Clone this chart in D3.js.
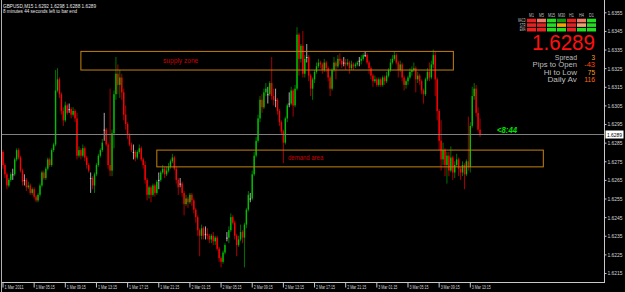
<!DOCTYPE html>
<html>
<head>
<meta charset="utf-8">
<script src="https://cdn.jsdelivr.net/npm/d3@7"></script>
<style>
  body { margin: 0; background: #000; overflow: hidden; }
  svg { display: block; font-family: "Liberation Sans", Arial, sans-serif; }
</style>
</head>
<body>
<svg id="chart"></svg>
<script>
const W = 625, H = 292;

// GBPUSD M15, 1 Mar 2011 01:15 onwards. [open, high, low, close] in pips above BASE
const BASE = 1.6200;
const candles = [
  [80,81,71,73],[73,74,66,68],[68,69,60,62],[62,66,61,65],[65,69,64,68],[68,71,65,68],[68,77,67,76],[76,82,75,81],
  [81,82,76,77],[77,78,69,70],[70,71,62,64],[65,68,62,65],[65,66,59,61],[61,64,60,62],[62,63,57,58],[58,61,57,60],
  [60,61,55,56],[56,57,53,54],[54,58,53,57],[57,63,56,62],[62,70,61,69],[69,70,65,66],[66,72,65,71],[71,77,70,76],
  [76,77,72,73],[73,82,72,81],[81,85,80,84],[84,124,83,113],[113,125,112,119],[119,120,109,111],[111,112,100,102],[102,104,94,97],
  [97,107,96,105],[105,106,100,101],[103,106,101,103],[103,104,98,100],[100,104,99,102],[102,103,96,98],[98,101,76,78],[78,83,77,81],
  [81,82,76,78],[78,84,77,82],[82,83,75,77],[77,78,71,73],[73,74,69,70],[66,69,58,66],[66,67,60,62],[62,69,58,68],
  [68,74,67,73],[73,79,72,78],[78,82,77,81],[81,87,80,85],[92,101,86,92],[92,93,83,84],[84,85,71,73],[73,114,67,70],
  [70,92,67,90],[90,113,82,111],[111,131,108,122],[122,127,111,116],[116,124,109,120],[120,122,108,112],[112,114,97,100],[100,105,92,95],
  [95,96,87,89],[89,90,83,84],[84,85,80,81],[80,84,76,80],[80,81,75,77],[77,81,76,80],[80,84,79,82],[82,83,75,76],
  [76,77,71,73],[73,75,63,65],[65,66,54,57],[57,62,55,61],[61,62,53,57],[57,63,56,62],[62,63,56,58],[58,65,57,64],
  [65,69,60,65],[65,70,64,69],[69,73,68,71],[71,72,66,68],[68,72,67,70],[70,74,69,72],[72,76,71,75],[75,79,74,77],
  [77,78,70,71],[71,72,63,65],[65,66,57,61],[63,66,61,63],[63,64,56,58],[58,59,46,52],[52,57,51,55],[55,56,50,53],
  [53,58,52,57],[57,58,51,54],[54,55,47,49],[49,50,42,45],[45,46,35,38],[38,39,24,35],[35,41,33,39],[39,40,33,35],
  [36,40,33,36],[36,39,33,35],[35,36,31,33],[33,36,31,35],[35,37,30,32],[32,35,30,34],[34,35,27,28],[28,29,21,23],
  [23,24,18,21],[21,27,20,26],[26,31,25,30],[34,37,32,34],[34,40,31,38],[38,47,37,45],[45,46,41,42],[42,43,33,35],
  [35,36,24,30],[30,35,29,33],[33,41,32,37],[37,38,31,34],[34,42,18,41],[41,50,39,49],[49,59,48,57],[55,58,53,55],
  [55,70,54,68],[68,80,67,78],[78,88,77,86],[86,100,85,98],[98,110,96,108],[108,111,101,104],[104,114,103,112],[112,117,110,114],
  [111,115,106,111],[111,118,110,117],[117,131,108,110],[110,114,105,108],[108,114,104,108],[108,109,100,102],[102,103,94,96],[96,97,89,91],
  [91,92,74,85],[85,99,84,98],[98,106,96,105],[106,112,104,106],[106,115,105,113],[113,114,99,105],[105,116,104,114],[114,147,113,143],
  [143,144,121,130],[130,138,128,137],[137,145,120,122],[122,132,120,130],[131,138,128,131],[131,132,118,121],[121,122,110,114],[114,120,108,119],
  [119,124,117,123],[123,128,122,126],[126,130,125,128],[128,129,125,127],[127,128,122,124],[124,130,123,128],[128,129,123,125],[125,126,118,120],
  [120,121,110,114],[114,125,113,124],[124,131,123,128],[128,129,119,126],[126,132,125,130],[130,133,127,129],[129,130,125,127],[128,131,126,128],
  [128,130,124,127],[127,130,126,128],[128,129,122,125],[125,129,124,127],[127,128,124,126],[126,128,125,127],[127,129,126,128],[129,131,126,129],
  [129,132,127,130],[130,133,129,132],[132,134,131,132],[132,133,127,128],[128,129,122,125],[125,126,119,121],[121,122,115,118],[118,121,117,119],
  [119,120,115,116],[116,120,115,119],[119,120,115,116],[116,121,115,120],[120,121,116,118],[118,123,117,121],[121,125,120,124],[124,130,123,128],
  [128,132,127,130],[130,134,129,132],[132,133,127,128],[128,129,120,124],[124,129,123,127],[127,128,118,120],[120,121,113,116],[116,119,114,118],
  [118,121,116,120],[120,125,119,123],[123,126,121,124],[124,128,123,125],[125,126,112,119],[119,123,117,121],[121,122,116,118],[118,119,111,113],
  [113,114,106,111],[111,120,110,119],[119,125,118,123],[123,128,118,120],[120,129,119,127],[127,135,125,132],[132,134,110,119],[119,120,97,102],
  [102,103,81,86],[86,97,70,76],[76,85,73,81],[81,82,67,73],[73,80,63,78],[78,80,67,70],[70,83,69,77],[77,78,65,69],
  [69,75,66,73],[73,79,72,76],[76,77,67,71],[71,72,65,69],[69,75,67,73],[73,74,60,68],[68,76,67,75],[75,99,70,72],
  [72,96,69,94],[94,115,93,110],[110,117,108,114],[114,116,99,101],[101,104,91,92],[92,98,88,89]
];

const timeLabels = ["1 Mar 2011","1 Mar 05:15","1 Mar 09:15","1 Mar 13:15","1 Mar 17:15","1 Mar 21:15",
  "2 Mar 01:15","2 Mar 05:15","2 Mar 09:15","2 Mar 13:15","2 Mar 17:15","2 Mar 21:15",
  "3 Mar 01:15","3 Mar 05:15","3 Mar 09:15","3 Mar 13:15"];
const labelEvery = 16; // bars between time labels
const priceTicks = [1.6355,1.6345,1.6335,1.6325,1.6315,1.6305,1.6295,1.6285,1.6275,1.6265,1.6255,1.6245,1.6235,1.6225,1.6215];
const bid = 1.6289;

// drawn rectangles: start bar, end bar, top, bottom
const zoneNames = ["supply zone", "demand area"];
const zoneStart = [40, 79];
const zoneEnd = [231.3, 277.5];
const zoneTop = [1.6334, 1.6281];
const zoneBottom = [1.6324, 1.6272];
const zoneTextBar = [82.2, 146.4];
const zoneTextPrice = [1.63289, 1.62768];

// signal panel
const timeframes = ["M1","M5","M15","M30","H1","H4","D1"];
const indicators = ["MACD","STR","EMA"];
const signals = [
  ["dn","dn2","up","up2","dn","dn2","up"],
  ["dn","dn","up","fl","dn","fl2","up"],
  ["dn","dn","up","up","dn","up","up"]
];
const signalColour = { up: "#22dd22", up2: "#0a9a0a", dn: "#e42222", dn2: "#f07a68", fl: "#f0a400", fl2: "#f2a070" };
const statNames = ["Spread","Pips to Open","Hi to Low","Daily Av"];
const statValues = ["3","-43","75","116"];
const statColours = ["#ffa020","#ff4a10","#ffa020","#ff6a10"];

const svg = d3.select("#chart").attr("width", W).attr("height", H);
svg.append("rect").attr("width", W).attr("height", H).attr("fill", "#000");

const x = d3.scaleLinear().domain([0, 240]).range([3, 470.3]);
const y = d3.scaleLinear().domain([1.6215, 1.6355]).range([273, 12.3]);
const py = p => y(BASE + p / 10000);

function txt(g, s, tx, ty, size, fill, len, anchor, weight) {
  const t = g.append("text").attr("x", tx).attr("y", ty)
    .attr("font-size", size).attr("fill", fill)
    .attr("text-anchor", anchor || "start")
    .attr("font-weight", weight || "normal").text(s);
  if (len) t.attr("textLength", len).attr("lengthAdjust", "spacingAndGlyphs");
  return t;
}

// candles
const bodyCol = d => d[3] > d[0] ? "#00c000" : d[3] < d[0] ? "#ff0000" : "#d0d0d0";
const wickCol = d => d[3] > d[0] ? "#007000" : d[3] < d[0] ? "#a80000" : "#a8a8a8";
const bars = svg.append("g").selectAll("g").data(candles).join("g");
bars.append("line")
  .attr("x1", (d, i) => x(i)).attr("x2", (d, i) => x(i))
  .attr("y1", d => py(d[1])).attr("y2", d => py(d[2]))
  .attr("stroke", wickCol).attr("stroke-width", 1);
bars.append("rect")
  .attr("x", (d, i) => x(i) - 0.7).attr("width", 1.4)
  .attr("y", d => py(Math.max(d[0], d[3])))
  .attr("height", d => Math.max(1, Math.abs(py(d[0]) - py(d[3]))))
  .attr("fill", bodyCol);

// zones
const zg = svg.append("g");
zoneNames.forEach((n, k) => {
  zg.append("rect")
    .attr("x", x(zoneStart[k])).attr("y", y(zoneTop[k]))
    .attr("width", x(zoneEnd[k]) - x(zoneStart[k]))
    .attr("height", y(zoneBottom[k]) - y(zoneTop[k]))
    .attr("fill", "none").attr("stroke", "#c4820e").attr("stroke-width", 1);
  txt(zg, n, x(zoneTextBar[k]), y(zoneTextPrice[k]) + 2.5, 7, "#cc0000", n.length * 3.2);
});

// bid line
const by = Math.round(y(bid)) - 0.5;
svg.append("line").attr("x1", 2).attr("x2", 604).attr("y1", by).attr("y2", by)
  .attr("stroke", "#808080").attr("stroke-width", 1);
txt(svg, "<8:44", x(candles.length - 1) + 17, by - 1.5, 9, "#00e000", 20, "start", "bold")
  .attr("font-style", "italic");

// frame
svg.append("line").attr("x1", 1.5).attr("x2", 1.5).attr("y1", 0).attr("y2", H).attr("stroke", "#b0b0b0");
svg.append("line").attr("x1", 604.5).attr("x2", 604.5).attr("y1", 0).attr("y2", 283).attr("stroke", "#c8c8c8");
svg.append("line").attr("x1", 2).attr("x2", 605).attr("y1", 282.5).attr("y2", 282.5).attr("stroke", "#c8c8c8");

// price axis
const ya = svg.append("g").attr("transform", "translate(604.5,0)")
  .call(d3.axisRight(y).tickValues(priceTicks).tickFormat(d3.format(".4f")).tickSize(2).tickPadding(1));
ya.select(".domain").remove();
ya.selectAll("line").attr("stroke", "#c8c8c8");
ya.selectAll("text").attr("fill", "#d8d8d8").attr("font-size", 5.5).attr("dy", "0.35em")
  .attr("textLength", 15).attr("lengthAdjust", "spacingAndGlyphs");

// bid box
svg.append("rect").attr("x", 605.5).attr("y", by - 4).attr("width", 18).attr("height", 8).attr("fill", "#fff");
txt(svg, d3.format(".4f")(bid), 607, by + 2, 5.5, "#000", 15);

// time axis
const xa = svg.append("g").attr("transform", "translate(0,282.5)")
  .call(d3.axisBottom(x).tickValues(timeLabels.map((t, i) => i * labelEvery))
    .tickFormat((d, i) => timeLabels[i]).tickSize(5));
xa.select(".domain").remove();
xa.selectAll("line").attr("stroke", "#c8c8c8").attr("transform", "translate(-0.5,0)");
xa.selectAll("text").attr("fill", "#d8d8d8").attr("font-size", 5.5)
  .attr("text-anchor", "start").attr("x", 1).attr("y", 6).attr("dy", null)
  .attr("textLength", 19).attr("lengthAdjust", "spacingAndGlyphs");

// top-left info
txt(svg, "GBPUSD,M15  1.6292 1.6298 1.6288 1.6289", 3, 7.5, 5.6, "#e8e8e8", 93);
txt(svg, "8 minutes 44 seconds left to bar end", 3, 12.8, 5.6, "#e8e8e8", 74);

// signal panel
const pg = svg.append("g");
timeframes.forEach((tf, c) => {
  txt(pg, tf, 531.5 + c * 10, 17.3, 4.5, "#c0c0c0", tf.length * 2.4, "middle");
});
indicators.forEach((ind, r) => {
  txt(pg, ind, 525.5, 22 + r * 4.6, 4.5, "#c0c0c0", ind.length * 1.9, "end");
  signals[r].forEach((s, c) => {
    pg.append("rect").attr("x", 527 + c * 10).attr("y", 18.7 + r * 4.6)
      .attr("width", 9).attr("height", 3.6).attr("fill", signalColour[s]);
  });
});
txt(pg, d3.format(".4f")(bid), 595, 49.5, 22, "#ff1010", 63, "end");
statNames.forEach((n, k) => {
  txt(pg, n, 577, 60 + k * 7.3, 7.2, "#bdbdbd", n.length * 3.7, "end");
  txt(pg, statValues[k], 595, 60 + k * 7.3, 7.2, statColours[k], statValues[k].length * 3.6, "end");
});
</script>
</body>
</html>
